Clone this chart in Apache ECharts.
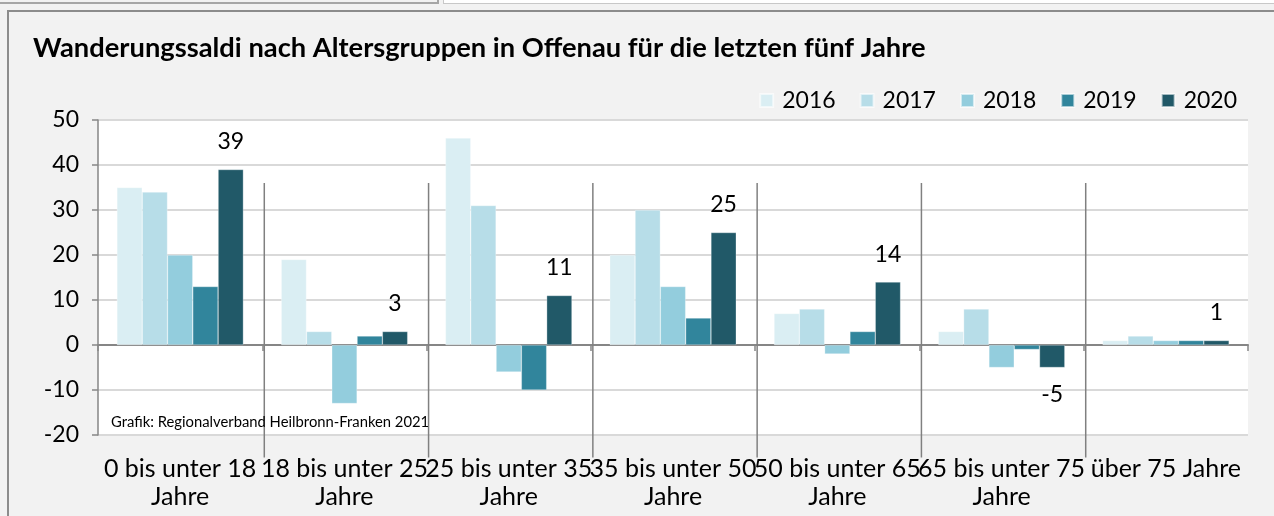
<!DOCTYPE html>
<html>
<head>
<meta charset="utf-8">
<title>Wanderungssaldi Offenau</title>
<script src="https://cdn.jsdelivr.net/npm/echarts@6/dist/echarts.min.js"></script>
<style>
  html, body { margin: 0; padding: 0; background: #f2f2f2; overflow: hidden; }
  #chart { position: absolute; left: 0; top: 0; width: 1274px; height: 516px; }
  .frame { position: absolute; left: 7px; top: 10px; width: 1400px; height: 700px; border: 2px solid #8c8c8c; }
  .prev-box { position: absolute; left: -4px; top: -30px; width: 439px; height: 30px; border: 2px solid #a6a6a6; }
  .next-box { position: absolute; left: 443px; top: -30px; width: 900px; height: 32px; background: #fff; border: 1px solid #c8c8c8; }
</style>
</head>
<body>
<div class="prev-box"></div>
<div class="next-box"></div>
<div class="frame"></div>
<div id="chart"></div>
<script>
// Altersgruppen (x-Achse)
const categories = [
  "0 bis unter 18 Jahre",
  "18 bis unter 25 Jahre",
  "25 bis unter 35 Jahre",
  "35 bis unter 50 Jahre",
  "50 bis unter 65 Jahre",
  "65 bis unter 75 Jahre",
  "über 75 Jahre"
];
const years = ["2016", "2017", "2018", "2019", "2020"];

// Wanderungssaldo je Jahr
const saldo2016 = [35, 19, 46, 20, 7, 3, 1];
const saldo2017 = [34, 3, 31, 30, 8, 8, 2];
const saldo2018 = [20, -13, -6, 13, -2, -5, 1];
const saldo2019 = [13, 2, -10, 6, 3, -1, 1];
const saldo2020 = [39, 3, 11, 25, 14, -5, 1];

const yMin = -20;
const yMax = 50;
const yStep = 10;

const colors = ["#daeef3", "#b7dde8", "#93cddd", "#31859c", "#215968"];
const font = "Lato, 'Liberation Sans', sans-serif";

const seriesValues = [saldo2016, saldo2017, saldo2018, saldo2019, saldo2020];

function buildSeries() {
  const bars = years.map(function (year, i) {
    return {
      name: year,
      type: "bar",
      xAxisIndex: 0,
      barGap: "0%",
      barCategoryGap: "23%",
      itemStyle: { color: colors[i], borderColor: "rgba(255,255,255,0.6)", borderWidth: 0.5 },
      label: {
        show: i === years.length - 1,
        position: "outside",
        distance: 16,
        fontFamily: font,
        fontSize: 23,
        color: "#000"
      },
      data: seriesValues[i]
    };
  });

  // lange Trennlinien zwischen den Altersgruppen
  bars.push({
    name: "trenner",
    type: "custom",
    xAxisIndex: 0,
    z: 3,
    silent: true,
    encode: { x: 0, y: 1 },
    data: categories.slice(1).map(function (c, i) { return [i + 1, 0]; }),
    renderItem: function (params, api) {
      const idx = api.value(0);
      const half = api.size([1, 0])[0] / 2;
      const top = api.coord([idx, 36]);
      const bottom = api.coord([idx, -25]);
      return {
        type: "line",
        shape: { x1: top[0] - half + 2, y1: top[1], x2: bottom[0] - half + 2, y2: bottom[1] },
        style: { stroke: "#808080", lineWidth: 1.5 }
      };
    }
  });
  return bars;
}

const option = {
  animation: false,
  backgroundColor: "transparent",
  color: colors,
  title: [
    {
      text: "Wanderungssaldi nach Altersgruppen in Offenau für die letzten fünf Jahre",
      left: 28,
      top: 30,
      textStyle: { fontFamily: font, fontSize: 27.3, fontWeight: "bold", color: "#000" }
    },
    {
      text: "Grafik: Regionalverband Heilbronn-Franken 2021",
      left: 106,
      top: 410,
      textStyle: { fontFamily: font, fontSize: 14.8, fontWeight: "normal", color: "#000" }
    }
  ],
  legend: {
    data: years,
    right: 32,
    top: 84,
    itemWidth: 13,
    itemHeight: 13,
    itemGap: 24,
    icon: "rect",
    textStyle: { fontFamily: font, fontSize: 23, color: "#000", padding: [0, 0, 0, 4] }
  },
  grid: {
    left: 98,
    right: 26,
    top: 120,
    bottom: 81,
    show: true,
    backgroundColor: "#ffffff",
    borderWidth: 0
  },
  xAxis: [
    {
      type: "category",
      data: categories,
      position: "bottom",
      axisLine: { show: false, onZero: false },
      axisTick: { show: false },
      axisLabel: {
        interval: 0,
        margin: 20,
        lineHeight: 28,
        fontFamily: font,
        fontSize: 25,
        color: "#000",
        formatter: function (value) {
          return value.indexOf("bis unter") >= 0 ? value.replace(" Jahre", "\nJahre") : value;
        }
      }
    },
    {
      type: "category",
      data: categories,
      position: "bottom",
      axisLine: { show: true, onZero: true, lineStyle: { color: "#868686", width: 2 } },
      axisTick: { show: true, length: 6, lineStyle: { color: "#868686", width: 1.5 } },
      axisLabel: { show: false }
    }
  ],
  yAxis: {
    type: "value",
    min: yMin,
    max: yMax,
    interval: yStep,
    axisLine: { show: true, lineStyle: { color: "#868686", width: 1.5 } },
    axisTick: { show: true, length: 6, lineStyle: { color: "#868686", width: 1.5 } },
    axisLabel: { margin: 19, fontFamily: font, fontSize: 23, color: "#000" },
    splitLine: { lineStyle: { color: "#d9d9d9", width: 2 } }
  },
  series: buildSeries()
};

let chartInstance = echarts.init(document.getElementById("chart"));
chartInstance.setOption(option);
</script>
</body>
</html>
